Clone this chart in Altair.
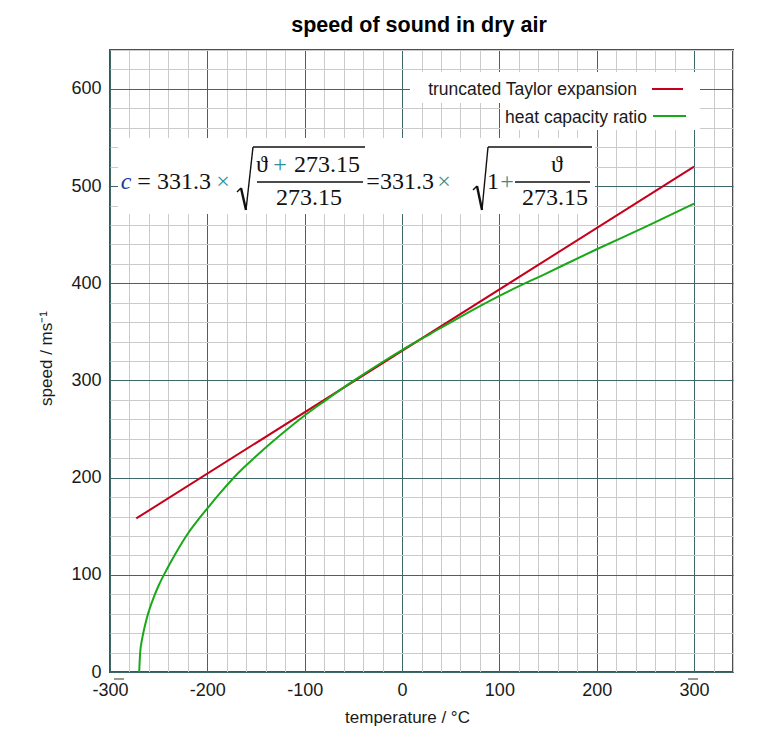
import altair as alt
import pandas as pd

# ---------------- data ----------------
series_names = ["truncated Taylor expansion", "heat capacity ratio"]
series_colors = ["#c4001c", "#18a818"]

taylor_temp = [-273, 300]
taylor_speed = [158, 520]

ratio_temp = [-270, -269, -267, -264, -262, -259, -255, -250, -242, -232, -221,
              -208, -197, -187, -170, -150, -120, -100, -80, -50, -20, 0, 30,
              60, 100, 150, 200, 250, 300]
ratio_speed = [0, 20, 34, 48, 56, 66, 77, 89, 105, 123, 141,
               158.5, 172, 184, 203, 222, 248, 264, 278.5, 299.5, 319, 331.3, 348.5,
               365.5, 387, 411, 435, 458, 482]

x_minor = list(range(-300, 341, 20))
y_minor = list(range(0, 641, 20))

title_text = "speed of sound in dry air"
x_title = "temperature / °C"
y_title = "speed / ms⁻¹"

df = pd.concat([
    pd.DataFrame({"temp": taylor_temp, "speed": taylor_speed, "series": series_names[0]}),
    pd.DataFrame({"temp": ratio_temp, "speed": ratio_speed, "series": series_names[1]}),
])

W, H = 623, 622
MAJOR = "#3e6767"
MINOR = "#cbcbcb"
SANS = "Liberation Sans"
SERIF = "Liberation Serif"
TEAL = "#2f8f96"
INK = "#1a1a1a"

major_cond = {"condition": {"test": "datum.value % 100 === 0", "value": MAJOR}, "value": MINOR}
label_expr = "datum.value % 100 === 0 ? toString(datum.value) : ''"

lines = alt.Chart(df).mark_line(strokeWidth=2, interpolate="monotone").encode(
    x=alt.X("temp:Q", scale=alt.Scale(domain=[-300, 340], nice=False, zero=False),
            axis=alt.Axis(values=x_minor, grid=True, gridColor=major_cond, gridWidth=1,
                          labelExpr=label_expr,
                          title=x_title, titleX=297, titleY=45, titleBaseline="middle",
                          labelPadding=9, labelFlush=False, labelOverlap=False)),
    y=alt.Y("speed:Q", scale=alt.Scale(domain=[0, 640], nice=False),
            axis=alt.Axis(values=y_minor, grid=True, gridColor=major_cond, gridWidth=1,
                          labelExpr=label_expr,
                          title=y_title, titleX=-64, titleY=308, titleAngle=-90,
                          titleAlign="center", titleBaseline="middle",
                          labelPadding=9, labelOverlap=False)),
    color=alt.Color("series:N", scale=alt.Scale(domain=series_names, range=series_colors),
                    legend=None),
    order=alt.Order("temp:Q"),
)

one = pd.DataFrame({"a": [0]})


def box(x1, x2, y1, y2):
    return alt.Chart(one).mark_rect(color="white", opacity=1).encode(
        x=alt.value(x1), x2=alt.value(x2), y=alt.value(y1), y2=alt.value(y2))


def seg(x1, y1, x2, y2, color="#111111", width=1.4):
    return alt.Chart(one).mark_rule(color=color, strokeWidth=width).encode(
        x=alt.value(x1), x2=alt.value(x2), y=alt.value(y1), y2=alt.value(y2))


def txt(s, x, y, size=24, font=SERIF, color="#111111", align="center", style="normal",
        weight="normal"):
    return alt.Chart(pd.DataFrame({"t": [s]})).mark_text(
        font=font, fontSize=size, color=color, align=align, baseline="alphabetic",
        fontStyle=style, fontWeight=weight).encode(x=alt.value(x), y=alt.value(y), text="t:N")


layers = [lines]

# title
layers.append(txt(title_text, 309, -18, size=21.5, font=SANS, color="#000000", weight="bold"))

# formula box and formula
layers.append(box(8, 485, 88, 164))
fy = 139
ny = 122
dy = 155
layers += [
    txt("c", 16, fy, color="#1f3a96", style="italic"),
    txt("=", 34, fy),
    txt("331.3", 74, fy),
    txt("×", 113, fy, color=TEAL),
    seg(127, 142, 131, 138), seg(131, 138, 136, 160, width=2.4), seg(136, 160, 143, 97),
    seg(143, 97, 255, 97),
    txt("ϑ", 152, ny),
    txt("+", 170, ny, color=TEAL),
    txt("273.15", 217, ny),
    seg(147, 132, 253, 132),
    txt("273.15", 199, dy),
    txt("=", 263, fy),
    txt("331.3", 297, fy),
    txt("×", 334, fy, color=TEAL),
    seg(363, 140, 367, 136), seg(367, 136, 372, 160, width=2.4), seg(372, 160, 378, 97),
    seg(378, 97, 482, 97),
    txt("1", 383, fy),
    txt("+", 397, fy, color=TEAL),
    seg(405, 132, 480, 132),
    txt("ϑ", 447, ny),
    txt("273.15", 445, dy),
]

# legend
layers += [
    box(300, 590, 22, 53),
    box(390, 590, 53, 80),
    txt(series_names[0], 527, 45, size=17.5, font=SANS, color=INK, align="right"),
    seg(542, 39, 573, 39, color=series_colors[0], width=2),
    txt(series_names[1], 537, 73, size=17.5, font=SANS, color=INK, align="right"),
    seg(543, 66, 576, 66, color=series_colors[1], width=2),
]

# small dashes above the end labels
layers += [
    seg(4, 629, 14, 629, color="#333333", width=1),
    seg(578, 629, 588, 629, color="#333333", width=1),
]

chart = alt.layer(*layers).properties(
    width=W, height=H,
    autosize=alt.AutoSizeParams(type="none"),
    padding={"left": 102, "top": 42, "right": 41, "bottom": 58},
).configure_view(
    stroke="#4f4f4f", strokeWidth=2
).configure_axis(
    domain=False, ticks=False, labelFont=SANS, labelFontSize=18, labelColor=INK,
    titleFont=SANS, titleFontSize=17, titleFontWeight="normal", titleColor=INK,
)

chart.save("out.html", embed_options={"renderer": "svg", "actions": False})
